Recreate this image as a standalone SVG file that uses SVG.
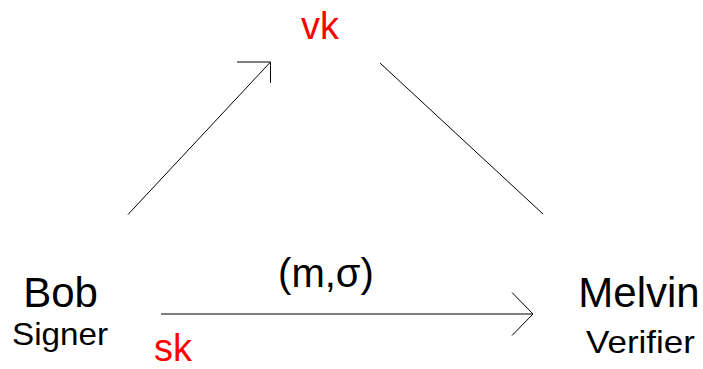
<svg xmlns="http://www.w3.org/2000/svg" width="703" height="369" viewBox="0 0 703 369">
<style>
text{font-family:"Liberation Sans",Arial,sans-serif;text-anchor:middle}
.big{font-size:42px;fill:#000}
.small{font-size:32px;fill:#000}
.red{font-size:38px;fill:#ff0000}
.ln{stroke:#000;stroke-width:1;fill:none}
</style>
<rect width="703" height="369" fill="#fff"/>
<g id="connectors">
<line class="ln" x1="128" y1="214.5" x2="270.5" y2="62"/>
<polyline class="ln" points="237,62 270.5,62 270.5,83"/>
<line class="ln" x1="380" y1="63" x2="543" y2="214"/>
<line class="ln" x1="161" y1="314" x2="533" y2="314"/>
<polyline class="ln" points="512,292.5 533,314 512,335.5"/>
<text style="font-size:40px" x="326" y="287">(m,σ)</text>
</g>
<g id="vk"><text class="red" x="320" y="39">vk</text></g>
<g id="bob"><text class="big" x="60.5" y="307">Bob</text><text class="small" x="60" y="345" textLength="96" lengthAdjust="spacingAndGlyphs">Signer</text></g>
<g id="sk"><text class="red" x="173" y="361">sk</text></g>
<g id="melvin"><text class="big" x="639" y="307">Melvin</text><text class="small" x="640.5" y="353" textLength="109" lengthAdjust="spacingAndGlyphs">Verifier</text></g>
</svg>
